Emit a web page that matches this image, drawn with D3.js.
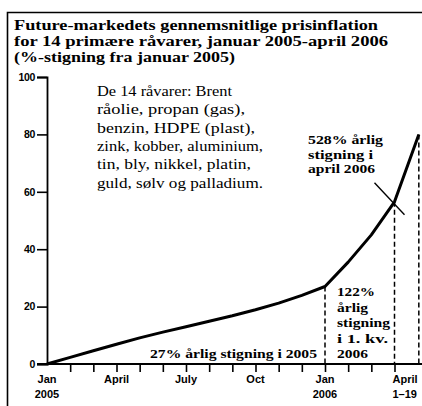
<!DOCTYPE html>
<html>
<head>
<meta charset="utf-8">
<script src="https://cdn.jsdelivr.net/npm/d3@7"></script>
<style>
  body { margin: 0; background: #fff; }
  svg { display: block; }
  .serif { font-family: "Liberation Serif", "Times New Roman", Times, serif; }
  .sans { font-family: "Liberation Sans", Arial, Helvetica, sans-serif; }
</style>
</head>
<body>
<div id="chart"></div>
<script>
// month index from Jan 2005 (0) ... April 2006 (15), last point = April 1-19
const months = [0, 1, 2, 3, 4, 5, 6, 7, 8, 9, 10, 11, 12, 13, 14, 15, 16.05]
const pct = [0, 2.3, 4.6, 6.9, 9.1, 11.1, 13, 14.9, 16.8, 18.9, 21.2, 23.9, 27, 35.5, 45, 56.5, 80]

const yTicks = [0, 20, 40, 60, 80, 100]
const xTickMonths = [0, 3, 6, 9, 12, 15]
const xLabels1 = ["Jan", "April", "July", "Oct", "Jan", "April"]
const xLabels2 = ["2005", "", "", "", "2006", "1\u201319"]

const titleLines = [
  "Future-markedets gennemsnitlige prisinflation",
  "for 14 primære råvarer, januar 2005-april 2006",
  "(%-stigning fra januar 2005)"
]
const infoLines = [
  "De 14 råvarer: Brent",
  "råolie, propan (gas),",
  "benzin, HDPE (plast),",
  "zink, kobber, aluminium,",
  "tin, bly, nikkel, platin,",
  "guld, sølv og palladium."
]
const note528 = ["528% årlig", "stigning  i", "april 2006"]
const note122 = ["122%", "årlig", "stigning", "i 1. kv.", "2006"]
const note27 = "27% årlig stigning i 2005"

// text widths
const titleW = [364, 374, 221]
const infoW = [135, 148, 158, 166, 154, 166]
const w528 = [75, 65, 67]
const w122 = [38, 31, 53, 51, 31]

const W = 422, H = 406
const svg = d3.select("#chart").append("svg")
  .attr("width", W).attr("height", H)
  .style("background", "#fff")

// frame
svg.append("path")
  .attr("d", "M7.5," + H + "V12.5H" + W)
  .attr("fill", "none").attr("stroke", "#000").attr("stroke-width", 1.6)

function textBlock(lines, widths, x0, y0, dy, size, weight) {
  svg.append("g").attr("class", "serif")
    .attr("font-weight", weight).attr("font-size", size)
    .selectAll("text")
    .data(lines).join("text")
    .attr("x", x0)
    .attr("y", (d, i) => y0 + i * dy)
    .attr("textLength", (d, i) => widths[i])
    .attr("lengthAdjust", "spacingAndGlyphs")
    .text(d => d)
}

// title
textBlock(titleLines, titleW, 14, 30, 16, 15.5, "bold")

const x = d3.scaleLinear().domain([0, 12]).range([47, 325])
const y = d3.scaleLinear().domain([0, 100]).range([364, 77])

// y axis
const yAxis = svg.append("g")
  .attr("transform", "translate(" + x(0) + ",0)")
  .call(d3.axisLeft(y).tickValues(yTicks).tickSize(10).tickPadding(2))
yAxis.select(".domain").attr("stroke-width", 1.8)
yAxis.selectAll(".tick line").attr("stroke-width", 1.6)
yAxis.attr("font-family", null)
yAxis.selectAll("text").attr("class", "sans")
  .attr("font-weight", "bold").attr("font-size", 10.5)
  .attr("letter-spacing", "-0.3")

// x axis ticks
const xAxis = svg.append("g")
  .attr("transform", "translate(0," + y(0) + ")")
  .call(d3.axisBottom(x).tickValues(d3.range(1, 16)).tickSize(8).tickFormat(""))
xAxis.select(".domain").remove()
xAxis.selectAll(".tick line").attr("stroke-width", 1.6)
svg.append("line")
  .attr("x1", x(0) - 10).attr("x2", W)
  .attr("y1", y(0)).attr("y2", y(0))
  .attr("stroke", "#000").attr("stroke-width", 1.8)

const xl = svg.append("g").attr("class", "sans")
  .attr("font-weight", "bold").attr("font-size", 11)
xl.selectAll(".l1").data(xTickMonths).join("text")
  .attr("x", (d, i) => i == 5 ? x(d) - 2 : x(d))
  .attr("y", y(0) + 19)
  .attr("text-anchor", (d, i) => i == 5 ? "start" : "middle")
  .text((d, i) => xLabels1[i])
xl.selectAll(".l2").data(xTickMonths).join("text")
  .attr("x", (d, i) => i == 5 ? x(d) - 2 : x(d))
  .attr("y", y(0) + 34)
  .attr("text-anchor", (d, i) => i == 5 ? "start" : "middle")
  .text((d, i) => xLabels2[i])

// dashed drop lines
const drops = [12, 15, 16]
svg.append("g").selectAll("line")
  .data(drops).join("line")
  .attr("x1", d => x(months[d])).attr("x2", d => x(months[d]))
  .attr("y1", d => y(pct[d])).attr("y2", y(0))
  .attr("stroke", "#000").attr("stroke-width", 1.5)
  .attr("stroke-dasharray", "5,3")

// the curve
const line = d3.line()
  .x((d, i) => x(months[i]))
  .y(d => y(d))
svg.append("path")
  .datum(pct)
  .attr("d", line)
  .attr("fill", "none")
  .attr("stroke", "#000")
  .attr("stroke-width", 3)
  .attr("stroke-linejoin", "round")

// pointer through April 1 point
const px = x(months[15]), py = y(pct[15])
svg.append("line")
  .attr("x1", px - 20).attr("y1", py - 19)
  .attr("x2", px + 10).attr("y2", py + 13)
  .attr("stroke", "#000").attr("stroke-width", 1.4)

// info text
textBlock(infoLines, infoW, 97, 96, 18.3, 15, "normal")

// annotations
textBlock(note528, w528, 308, 144, 14.5, 13.5, "bold")
textBlock(note122, w122, 337, 296, 15.5, 13.5, "bold")
textBlock([note27], [167], 150, 358, 0, 13.5, "bold")
</script>
</body>
</html>
